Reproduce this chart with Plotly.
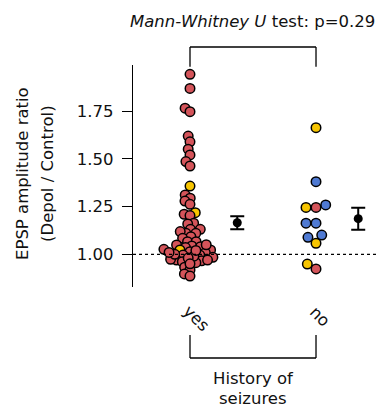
import numpy as np
import plotly.graph_objects as go

# ---------------- data ----------------
GROUPS = ["yes", "no"]
YES_VALUES = [1.944, 1.870, 1.766, 1.748, 1.620, 1.590, 1.551, 1.521, 1.486, 1.463,
              1.358, 1.311, 1.294, 1.279, 1.262, 1.218, 1.210, 1.203, 1.163, 1.159,
              1.131, 1.131, 1.110, 1.110, 1.119, 1.092, 1.084, 1.066, 1.066, 1.049,
              1.044, 1.035, 1.040, 1.023, 1.023, 1.026, 1.014, 1.008, 0.996, 0.996,
              0.984, 0.970, 0.966, 0.974, 0.961, 0.970, 0.956, 0.932, 0.918, 0.897, 0.886,
              1.000, 0.990, 1.020, 0.980, 1.050, 1.010, 0.950]
YES_KIND = ["r"] * len(YES_VALUES)
YES_KIND[10] = "y"
YES_KIND[15] = "y"
YES_KIND[33] = "y"
NO_VALUES = [1.664, 1.381, 1.246, 1.259, 1.246, 1.163, 1.163, 1.101, 1.089, 1.058, 0.949, 0.923]
NO_KIND = ["y", "b", "r", "b", "y", "b", "b", "b", "b", "y", "y", "r"]
Y_TICKS = [1.00, 1.25, 1.50, 1.75]
TITLE_ITALIC = "Mann-Whitney U"
TITLE_REST = " test: p=0.29"
Y_LABEL_1 = "EPSP amplitude ratio"
Y_LABEL_2 = "(Depol / Control)"
X_LABEL_1 = "History of"
X_LABEL_2 = "seizures"

# ---------------- style / layout ----------------
W, H = 378, 410
ML, MR, MT, MB = 133, 0, 65, 123
PW, PH = W - ML - MR, H - MT - MB
Y_RANGE = [0.8285, 1.9927]
X_RANGE = [-0.4524, 1.492]
PX_Y = PH / (Y_RANGE[1] - Y_RANGE[0])
PX_X = PW / (X_RANGE[1] - X_RANGE[0])
COLORS = {"r": "#D4545A", "y": "#F7C500", "b": "#4F7AD3"}
FONT = "DejaVu Sans"
FS = 16.5
ERR_OFFSET = [0.375, 0.335]


def swarm(vals, d):
    ys = np.asarray(vals, dtype=float) * PX_Y
    order = np.argsort(ys)
    xs = np.zeros(len(ys))
    placed = []
    for i in order:
        y = ys[i]
        cands = [0.0]
        for j in placed:
            dy = abs(y - ys[j])
            if dy < d:
                dx = np.sqrt(d * d - dy * dy)
                cands += [xs[j] + dx, xs[j] - dx]
        cands = sorted(cands, key=lambda c: (abs(c), c))
        for c in cands:
            if all((c - xs[j]) ** 2 + (y - ys[j]) ** 2 >= d * d - 1e-6 for j in placed):
                xs[i] = c
                break
        placed.append(i)
    return xs / PX_X


fig = go.Figure()

for gi, (vals, kinds, d) in enumerate([(YES_VALUES, YES_KIND, 6.0), (NO_VALUES, NO_KIND, 10.0)]):
    off = swarm(vals, d)
    fig.add_trace(go.Scatter(
        x=gi + off, y=vals, mode="markers",
        marker=dict(size=9.5, color=[COLORS[k] for k in kinds],
                    line=dict(color="black", width=1.5)),
        showlegend=False, hoverinfo="y"))
    arr = np.asarray(vals)
    mean = arr.mean()
    sem = arr.std(ddof=1) / np.sqrt(len(arr))
    fig.add_trace(go.Scatter(
        x=[gi + ERR_OFFSET[gi]], y=[mean], mode="markers",
        marker=dict(size=9, color="black"),
        error_y=dict(type="data", array=[sem], width=7, thickness=2, color="black"),
        showlegend=False))

shapes = [
    dict(type="line", xref="paper", yref="y", x0=0, x1=1, y0=1, y1=1,
         line=dict(color="black", width=1.3, dash="3px,3px")),
    # top bracket
    dict(type="line", xref="x", yref="paper", x0=0, x1=1, y0=1.081, y1=1.081,
         line=dict(color="black", width=1.3)),
    dict(type="line", xref="x", yref="paper", x0=0, x1=0, y0=1.081, y1=0.992,
         line=dict(color="black", width=1.3)),
    dict(type="line", xref="x", yref="paper", x0=1, x1=1, y0=1.081, y1=0.992,
         line=dict(color="black", width=1.3)),
    # bottom bracket
    dict(type="line", xref="x", yref="paper", x0=0, x1=1, y0=-0.3198, y1=-0.3198,
         line=dict(color="black", width=1.3)),
    dict(type="line", xref="x", yref="paper", x0=0, x1=0, y0=-0.2162, y1=-0.3198,
         line=dict(color="black", width=1.3)),
    dict(type="line", xref="x", yref="paper", x0=1, x1=1, y0=-0.2162, y1=-0.3198,
         line=dict(color="black", width=1.3)),
]

tfont = dict(family=FONT, size=FS, color="#111")
annotations = [
    dict(text="<i>" + TITLE_ITALIC + "</i>" + TITLE_REST, xref="paper", yref="paper",
         x=(252 - ML) / PW, y=(MT + PH - 22) / PH, xanchor="center", yanchor="middle",
         showarrow=False, font=tfont),
    dict(text=Y_LABEL_1, xref="paper", yref="paper", x=(22 - ML) / PW, y=(MT + PH - 174) / PH,
         textangle=-90, xanchor="center", yanchor="middle", showarrow=False, font=tfont),
    dict(text=Y_LABEL_2, xref="paper", yref="paper", x=(47 - ML) / PW, y=(MT + PH - 174) / PH,
         textangle=-90, xanchor="center", yanchor="middle", showarrow=False, font=tfont),
    dict(text=X_LABEL_1, xref="x", yref="paper", x=0.5, y=(MT + PH - 378) / PH,
         xanchor="center", yanchor="middle", showarrow=False, font=tfont),
    dict(text=X_LABEL_2, xref="x", yref="paper", x=0.5, y=(MT + PH - 398) / PH,
         xanchor="center", yanchor="middle", showarrow=False, font=tfont),
]
for gi, g in enumerate(GROUPS):
    cx = [196.5, 320][gi]
    cy = [318.5, 316][gi]
    annotations.append(dict(text=g, xref="paper", yref="paper", x=(cx - ML) / PW,
                            y=(MT + PH - cy) / PH, textangle=45, xanchor="center",
                            yanchor="middle", showarrow=False, font=tfont))

fig.update_layout(
    width=W, height=H, margin=dict(l=ML, r=MR, t=MT, b=MB),
    plot_bgcolor="white", paper_bgcolor="white",
    shapes=shapes, annotations=annotations,
    xaxis=dict(range=X_RANGE, showgrid=False, zeroline=False, showline=False,
               showticklabels=False, ticks=""),
    yaxis=dict(range=Y_RANGE, showgrid=False, zeroline=False, showline=True,
               linecolor="black", linewidth=1.3, ticks="outside", ticklen=10,
               tickwidth=1.3, tickcolor="black", tickvals=Y_TICKS, tickformat=".2f",
               tickfont=tfont, ticklabelstandoff=5),
)

fig.write_html("out.html")
